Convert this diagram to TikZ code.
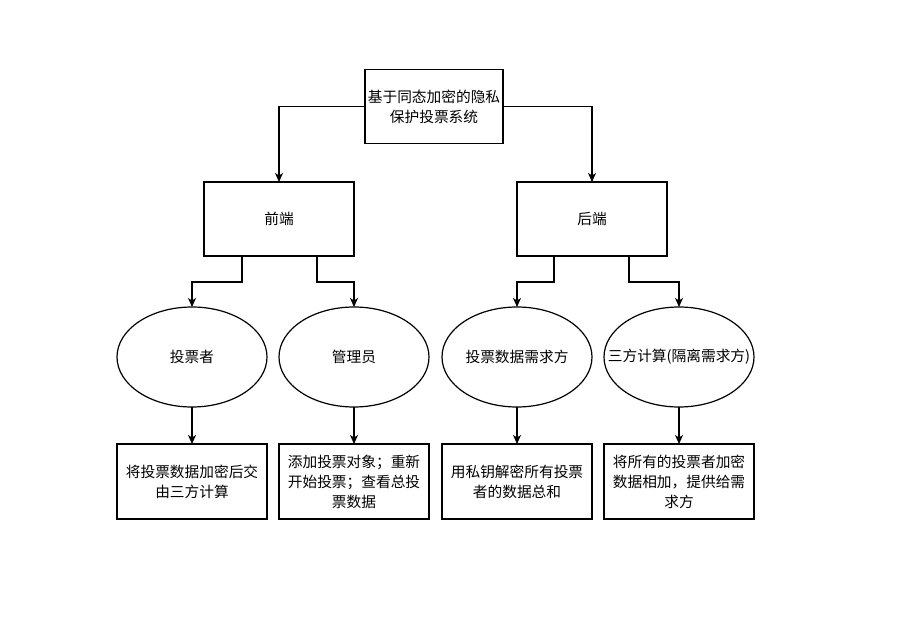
\documentclass[tikz,border=0pt]{standalone}
\usepackage{fontspec}
\setmainfont{Noto Sans CJK SC}
\usetikzlibrary{arrows.meta,shapes.geometric}
\begin{document}
\begin{tikzpicture}[x=1pt,y=-1pt,
  every node/.style={font=\fontsize{14.7}{20}\selectfont, align=center, inner sep=0pt, outer sep=0pt},
  box/.style={draw=black, line width=1.2pt, rectangle, minimum width=150pt, minimum height=75pt},
  oval/.style={draw=black, line width=1.2pt, ellipse, minimum width=150pt, minimum height=100pt},
  arr/.style={draw=black, line width=1.2pt, -{Stealth[length=9pt,width=8pt,inset=2.5pt]}}
]
\useasboundingbox (0,0) rectangle (902,631);
\fill[white] (0,0) rectangle (902,631);

\node[box, minimum width=138pt, minimum height=74pt] (root) at (434,106.5) {基于同态加密的隐私\\保护投票系统};
\node[box, minimum height=74pt] (front) at (279,219) {前端};
\node[box, minimum height=74pt] (back) at (592,219) {后端};

\node[oval, label={center:投票者}] (e1) at (192,357) {};
\node[oval, label={center:管理员}] (e2) at (354,357) {};
\node[oval, label={center:投票数据需求方}] (e3) at (517,357) {};
\node[oval, label={center:三方计算(隔离需求方)}] (e4) at (679,357) {};

\node[box] (b1) at (192,481.5) {将投票数据加密后交\\由三方计算};
\node[box] (b2) at (354,481.5) {添加投票对象；重新\\开始投票；查看总投\\票数据};
\node[box] (b3) at (517,481.5) {用私钥解密所有投票\\者的数据总和};
\node[box] (b4) at (679,481.5) {将所有的投票者加密\\数据相加，提供给需\\求方};

\draw[arr] (root.west) -| (front.north);
\draw[arr] (root.east) -| (back.north);

\draw[arr] ([xshift=-37pt]front.south) -- ++(0,26) -| (e1.north);
\draw[arr] ([xshift=38pt]front.south) -- ++(0,26) -| (e2.north);
\draw[arr] ([xshift=-38pt]back.south) -- ++(0,26) -| (e3.north);
\draw[arr] ([xshift=37pt]back.south) -- ++(0,26) -| (e4.north);

\draw[arr] (e1.south) -- (b1.north);
\draw[arr] (e2.south) -- (b2.north);
\draw[arr] (e3.south) -- (b3.north);
\draw[arr] (e4.south) -- (b4.north);
\end{tikzpicture}
\end{document}
